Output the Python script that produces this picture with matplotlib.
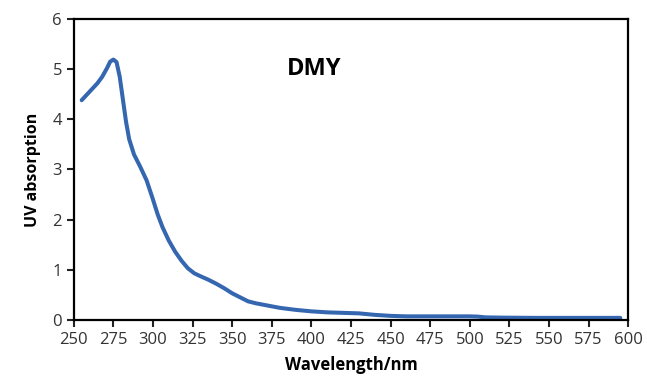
import matplotlib
matplotlib.use("Agg")
import matplotlib.pyplot as plt
import numpy as np

# spectrum
wavelength = [255, 260, 265, 268, 271, 273, 275, 277, 279, 281, 283, 285, 288, 292,
              296, 300, 303, 306, 310, 314, 318, 322, 326, 330, 335, 340, 345, 350,
              355, 360, 365, 370, 375, 380, 390, 400, 410, 420, 430, 440, 450, 460,
              480, 500, 505, 510, 520, 540, 560, 580, 595]
absorbance = [4.38, 4.55, 4.72, 4.85, 5.02, 5.15, 5.19, 5.14, 4.85, 4.4, 3.95, 3.6, 3.3, 3.05,
              2.78, 2.4, 2.1, 1.85, 1.58, 1.36, 1.18, 1.03, 0.93, 0.87, 0.8, 0.72, 0.63, 0.53,
              0.45, 0.37, 0.33, 0.3, 0.27, 0.24, 0.2, 0.17, 0.15, 0.14, 0.13, 0.1, 0.08, 0.07,
              0.07, 0.07, 0.065, 0.05, 0.045, 0.04, 0.04, 0.04, 0.04]

x_ticks = np.arange(250, 601, 25)
y_ticks = np.arange(0, 7, 1)

plt.rcParams['font.family'] = ['Open Sans', 'DejaVu Sans']

fig = plt.figure(figsize=(6.47, 3.79), dpi=100)
ax = fig.add_axes([0.114, 0.156, 0.857, 0.794])

ax.plot(wavelength, absorbance, color='#3566b0', lw=2.9, solid_capstyle='round',
        solid_joinstyle='round')

ax.set_xlim(250, 600)
ax.set_ylim(0, 6)
ax.set_xticks(x_ticks)
ax.set_yticks(y_ticks)
ax.tick_params(direction='out', length=5, width=1.5, labelsize=12, color='#222222',
               labelcolor='#333333')

for s in ax.spines.values():
    s.set_linewidth(1.6)
    s.set_color('black')

ax.set_xlabel('Wavelength/nm', fontsize=12, fontweight='bold', labelpad=6)
ax.set_ylabel('UV absorption', fontsize=11.5, fontweight='bold', labelpad=8)
ax.text(402, 5.0, 'DMY', fontsize=17, fontweight='bold', ha='center', va='center')

fig.savefig('out.png', dpi=100)
